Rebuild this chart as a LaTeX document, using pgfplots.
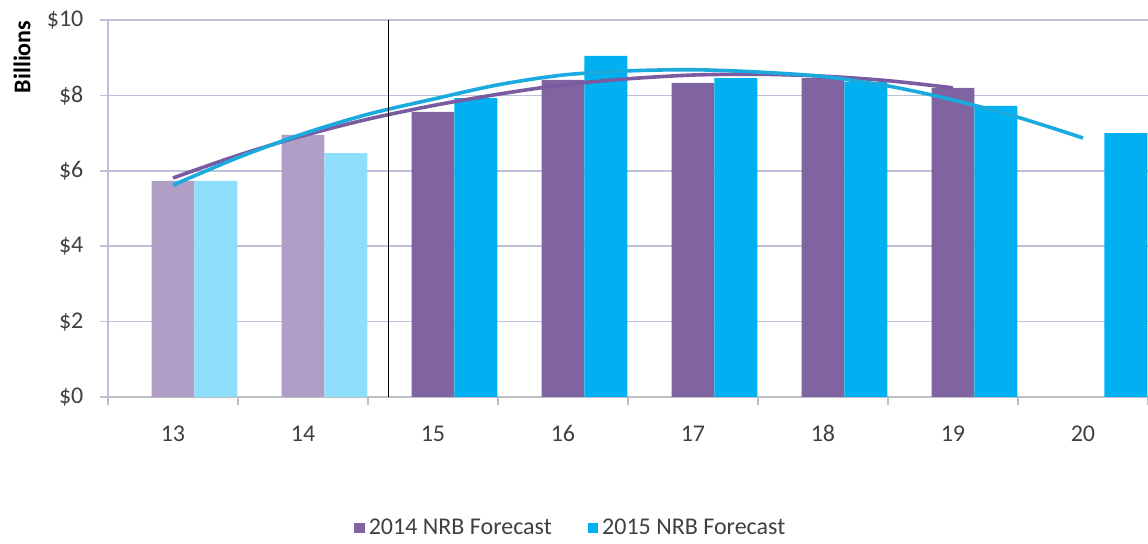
\documentclass[border=0pt]{standalone}
\usepackage{fontspec}
\setmainfont{Carlito}
\usepackage{pgfplots}
\pgfplotsset{compat=1.18}
\definecolor{pdark}{RGB}{128,100,162}
\definecolor{plight}{RGB}{176,158,198}
\definecolor{bdark}{RGB}{0,176,240}
\definecolor{blight}{RGB}{143,222,252}
\definecolor{gridc}{RGB}{188,192,216}
\definecolor{axc}{RGB}{190,190,198}
\definecolor{txt}{RGB}{64,64,64}
\definecolor{ptrend}{RGB}{122,90,160}
\definecolor{btrend}{RGB}{26,170,222}
\pgfplotsset{sqlegend/.style={legend image code/.code={\fill[##1] (0pt,-2.6pt) rectangle (5.2pt,2.6pt);}}}
\begin{document}
\begin{tikzpicture}
\begin{axis}[
  scale only axis, width=520pt, height=188.5pt,
  xmin=0, xmax=8, ymin=0, ymax=10,
  axis x line*=bottom, axis y line*=left,
  x axis line style={draw=axc, line width=0.9pt},
  y axis line style={draw=gridc, line width=0.8pt},
  ytick={0,2,4,6,8,10}, yticklabels={\$0,\$2,\$4,\$6,\$8,\$10},
  ymajorgrids, grid style={gridc, line width=0.8pt},
  xtick={0,1,2,3,4,5,6,7,8}, x tick label as interval,
  xticklabels={13,14,15,16,17,18,19,20},
  tick align=outside, major tick length=3.8pt,
  xtick style={draw=axc, line width=0.8pt},
  ytick style={draw=gridc, line width=0.8pt},
  tick label style={font=\fontsize{12}{14}\selectfont, text=txt},
  xticklabel style={yshift=-7pt, text height=8pt, text depth=0pt},
  yticklabel style={xshift=-5pt},
  legend style={at={(0.446,-0.347)}, anchor=center, draw=none, fill=none,
    legend columns=2, font=\fontsize{12}{14}\selectfont, text=txt,
    /tikz/every even column/.append style={column sep=16pt}},
  clip=false,
]
\addplot[ybar, bar width=0.33, bar shift=0pt, fill=plight, draw=none, forget plot]
  coordinates {(0.5,5.73) (1.5,6.95)};
\addplot[ybar, bar width=0.33, bar shift=0pt, fill=blight, draw=none, forget plot]
  coordinates {(0.83,5.73) (1.83,6.47)};
\addplot[ybar, bar width=0.33, bar shift=0pt, fill=pdark, draw=none, sqlegend]
  coordinates {(2.5,7.56) (3.5,8.41) (4.5,8.33) (5.5,8.46) (6.5,8.20)};
\addlegendentry{2014 NRB Forecast}
\addplot[ybar, bar width=0.33, bar shift=0pt, fill=bdark, draw=none, sqlegend]
  coordinates {(2.83,7.93) (3.83,9.05) (4.83,8.46) (5.83,8.36) (6.83,7.72) (7.83,7.00)};
\addlegendentry{2015 NRB Forecast}
\addplot[ptrend, line width=1.8pt, smooth, forget plot]
  coordinates {(0.5,5.81) (1,6.41) (1.5,6.93) (2,7.37) (2.5,7.73) (3,8.03) (3.5,8.28) (4,8.44) (4.5,8.54) (5,8.56) (5.5,8.51) (6,8.39) (6.5,8.20)};
\addplot[btrend, line width=1.8pt, smooth, forget plot]
  coordinates {(0.5,5.62) (1,6.35) (1.5,6.98) (2,7.50) (2.5,7.90) (3,8.28) (3.5,8.54) (4,8.65) (4.5,8.68) (5,8.62) (5.5,8.50) (6,8.25) (6.5,7.88) (7,7.42) (7.5,6.87)};
\addplot[black, line width=0.6pt, forget plot] coordinates {(2.16,0) (2.16,10)};
\node[rotate=90, font=\bfseries\fontsize{12}{14}\selectfont, text=black]
  at ([xshift=-43pt]rel axis cs:0,0.902) {Billions};
\end{axis}
\pgfresetboundingbox
\path[use as bounding box] (-54pt,-73.5pt) rectangle (520pt,198.5pt);
\end{tikzpicture}
\end{document}
